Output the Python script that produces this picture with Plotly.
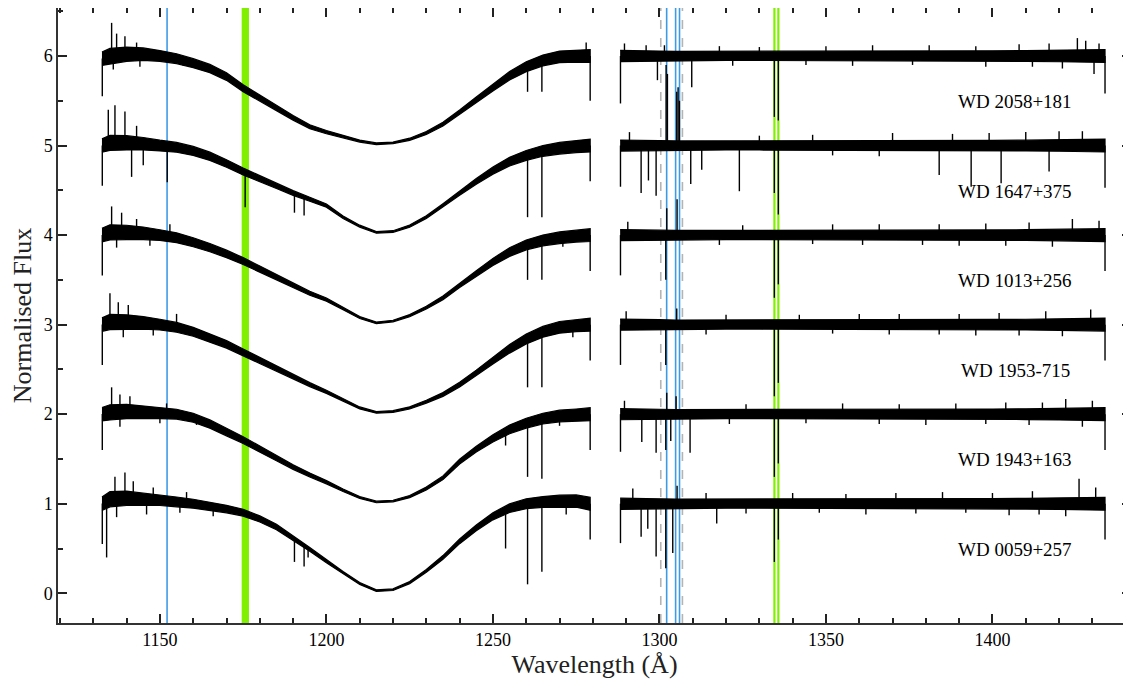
import numpy as np
import plotly.graph_objects as go

# ---- data ----
STARS = ["WD 0059+257", "WD 1943+163", "WD 1953-715", "WD 1013+256", "WD 1647+375", "WD 2058+181"]
OFFSETS = [0, 1, 2, 3, 4, 5]

# blue segment (Lyman alpha), continuum at knots, offset removed
WAVE_BLUE = [1132.6, 1135, 1140, 1145, 1150, 1155, 1160, 1165, 1170, 1175, 1180, 1185, 1190, 1195,
             1200, 1205, 1210, 1215, 1220, 1225, 1230, 1235, 1240, 1245, 1250, 1255, 1260, 1265,
             1270, 1275, 1279.2]
FLUX_0059 = [1.00, 1.05, 1.06, 1.05, 1.04, 1.02, 1.00, 0.97, 0.94, 0.90, 0.83, 0.74, 0.62, 0.49,
             0.36, 0.23, 0.11, 0.03, 0.04, 0.12, 0.25, 0.40, 0.58, 0.73, 0.86, 0.95, 1.00, 1.02,
             1.03, 1.03, 1.00]
FLUX_1943 = [1.00, 1.02, 1.03, 1.02, 1.01, 1.00, 0.96, 0.89, 0.80, 0.71, 0.61, 0.51, 0.41, 0.32,
             0.24, 0.15, 0.07, 0.02, 0.03, 0.08, 0.17, 0.29, 0.47, 0.61, 0.73, 0.83, 0.90, 0.95,
             0.98, 0.99, 1.00]
FLUX_1953 = [1.00, 1.03, 1.03, 1.02, 1.00, 0.97, 0.92, 0.85, 0.78, 0.69, 0.60, 0.51, 0.42, 0.33,
             0.25, 0.16, 0.07, 0.02, 0.03, 0.07, 0.14, 0.22, 0.33, 0.46, 0.60, 0.73, 0.84, 0.92,
             0.97, 0.99, 1.00]
FLUX_1013 = [1.00, 1.03, 1.03, 1.02, 1.00, 0.97, 0.92, 0.86, 0.79, 0.71, 0.62, 0.53, 0.44, 0.35,
             0.28, 0.18, 0.08, 0.02, 0.04, 0.10, 0.19, 0.30, 0.44, 0.57, 0.70, 0.81, 0.89, 0.94,
             0.97, 0.99, 1.00]
FLUX_1647 = [1.00, 1.03, 1.03, 1.02, 1.00, 0.98, 0.94, 0.88, 0.80, 0.71, 0.63, 0.55, 0.47, 0.40,
             0.33, 0.20, 0.10, 0.03, 0.04, 0.10, 0.20, 0.33, 0.47, 0.60, 0.72, 0.82, 0.89, 0.94,
             0.97, 0.99, 1.00]
FLUX_2058 = [0.97, 1.00, 1.02, 1.02, 1.00, 0.97, 0.92, 0.86, 0.77, 0.64, 0.53, 0.42, 0.31, 0.21,
             0.15, 0.10, 0.05, 0.02, 0.03, 0.07, 0.14, 0.24, 0.37, 0.51, 0.65, 0.78, 0.88, 0.95,
             0.99, 1.00, 1.00]
NOISE_BLUE = [0.075, 0.085, 0.08, 0.07, 0.06, 0.055, 0.05, 0.046, 0.042, 0.038, 0.034, 0.03, 0.026, 0.022,
              0.018, 0.014, 0.011, 0.009, 0.009, 0.012, 0.016, 0.021, 0.026, 0.032, 0.04, 0.048, 0.055, 0.06,
              0.065, 0.068, 0.072]

# red segment, flat continuum
WAVE_RED = [1288.2, 1290, 1295, 1300, 1305, 1310, 1320, 1330, 1340, 1350, 1360, 1370, 1380, 1390,
            1400, 1410, 1420, 1425, 1430, 1433.8]
FLUX_RED = [1.00, 1.00, 1.00, 1.00, 1.00, 1.00, 1.00, 1.00, 1.00, 1.00, 1.00, 1.00, 1.00, 1.00,
            1.00, 1.00, 1.00, 1.00, 1.00, 1.00]
NOISE_RED = [0.062, 0.062, 0.058, 0.055, 0.052, 0.052, 0.05, 0.05, 0.05, 0.05, 0.05, 0.052, 0.052, 0.055,
             0.058, 0.06, 0.064, 0.068, 0.072, 0.072]

# absorption dips (wavelength, lowest flux)
DIPS_0059 = [(1132.7, 0.55), (1134.0, 0.40), (1137.0, 0.85), (1146.0, 0.88), (1156.0, 0.90),
             (1166.0, 0.86), (1190.4, 0.35), (1193.3, 0.30), (1194.5, 0.40), (1253.8, 0.50),
             (1260.4, 0.10), (1264.7, 0.24), (1272.0, 0.88), (1279.2, 0.60),
             (1288.3, 0.56), (1294.5, 0.63), (1296.5, 0.72), (1299.0, 0.41), (1301.9, 0.28),
             (1304.0, 0.45), (1317.2, 0.78), (1326.0, 0.89), (1334.5, 0.35), (1335.7, 0.60),
             (1348.0, 0.90), (1362.0, 0.88), (1377.0, 0.89), (1392.0, 0.90), (1405.0, 0.87),
             (1414.0, 0.88), (1422.0, 0.86), (1433.8, 0.60)]
DIPS_1943 = [(1132.7, 0.60), (1138.0, 0.86), (1150.0, 0.90), (1161.0, 0.88), (1253.8, 0.65),
             (1260.4, 0.30), (1264.7, 0.28), (1270.0, 0.87), (1279.2, 0.60),
             (1288.3, 0.58), (1294.7, 0.69), (1299.0, 0.57), (1301.9, 0.60), (1303.4, 0.70),
             (1309.2, 0.57), (1321.0, 0.89), (1334.5, 0.30), (1335.7, 0.45), (1344.0, 0.90),
             (1366.0, 0.89), (1380.0, 0.88), (1398.0, 0.89), (1411.0, 0.88), (1427.0, 0.86),
             (1433.8, 0.60)]
DIPS_1953 = [(1132.7, 0.55), (1139.0, 0.86), (1148.0, 0.88), (1158.0, 0.89), (1253.8, 0.70),
             (1260.4, 0.30), (1264.7, 0.30), (1274.0, 0.86), (1279.2, 0.60),
             (1288.3, 0.55), (1301.9, 0.55), (1314.0, 0.89), (1334.5, 0.20), (1335.7, 0.35),
             (1352.0, 0.90), (1369.0, 0.89), (1384.0, 0.89), (1395.0, 0.88), (1408.0, 0.88),
             (1421.0, 0.87), (1433.8, 0.60)]
DIPS_1013 = [(1132.7, 0.55), (1137.0, 0.86), (1147.0, 0.88), (1159.0, 0.89), (1260.4, 0.50),
             (1264.7, 0.50), (1271.0, 0.87), (1279.2, 0.60),
             (1288.3, 0.55), (1301.9, 0.50), (1318.0, 0.89), (1334.5, 0.30), (1335.7, 0.45),
             (1346.0, 0.90), (1361.0, 0.89), (1379.0, 0.89), (1390.0, 0.88), (1404.0, 0.88),
             (1418.0, 0.87), (1433.8, 0.60)]
DIPS_1647 = [(1132.7, 0.55), (1141.5, 0.65), (1145.0, 0.78), (1152.2, 0.59), (1175.6, 0.31),
             (1190.4, 0.25), (1193.3, 0.22), (1260.4, 0.20), (1264.7, 0.20), (1279.2, 0.60),
             (1288.3, 0.54), (1294.5, 0.47), (1296.7, 0.61), (1299.0, 0.44), (1309.4, 0.57),
             (1312.7, 0.73), (1324.0, 0.49), (1334.5, 0.47), (1335.7, 0.23), (1352.0, 0.89),
             (1366.0, 0.88), (1384.0, 0.67), (1393.6, 0.54), (1402.6, 0.58), (1417.0, 0.71),
             (1433.8, 0.53)]
DIPS_2058 = [(1132.7, 0.55), (1136.0, 0.85), (1144.0, 0.88), (1157.0, 0.89), (1260.4, 0.60),
             (1264.7, 0.60), (1279.2, 0.50),
             (1288.3, 0.47), (1299.4, 0.73), (1309.7, 0.65), (1322.0, 0.89), (1334.5, 0.32),
             (1335.7, 0.28), (1344.0, 0.90), (1358.0, 0.89), (1376.0, 0.90), (1398.0, 0.88),
             (1412.0, 0.88), (1421.0, 0.86), (1430.5, 0.80), (1433.8, 0.58)]

# emission / noise spikes (wavelength, highest flux)
PEAKS_0059 = [(1136.5, 1.30), (1139.5, 1.35), (1142.0, 1.25), (1148.0, 1.18), (1158.0, 1.13),
              (1292.0, 1.17), (1305.3, 1.20), (1314.0, 1.12), (1340.0, 1.12), (1356.0, 1.11),
              (1371.0, 1.12), (1385.0, 1.13), (1400.0, 1.12), (1412.0, 1.14), (1426.0, 1.28),
              (1431.0, 1.18)]
PEAKS_1943 = [(1135.5, 1.30), (1138.0, 1.22), (1141.0, 1.20), (1152.0, 1.12), (1289.5, 1.15),
              (1302.2, 1.24), (1305.0, 1.20), (1326.0, 1.11), (1355.0, 1.12), (1372.0, 1.11),
              (1389.0, 1.12), (1404.0, 1.13), (1415.0, 1.13), (1422.0, 1.17), (1430.0, 1.15)]
PEAKS_1953 = [(1135.0, 1.35), (1137.5, 1.25), (1140.5, 1.22), (1155.0, 1.12), (1290.0, 1.15),
              (1305.2, 1.18), (1320.0, 1.11), (1342.0, 1.11), (1360.0, 1.12), (1372.0, 1.12),
              (1390.0, 1.12), (1402.0, 1.13), (1416.0, 1.15), (1429.5, 1.17)]
PEAKS_1013 = [(1135.5, 1.32), (1138.5, 1.25), (1143.0, 1.18), (1153.0, 1.12), (1290.5, 1.15),
              (1302.2, 1.30), (1305.3, 1.40), (1325.0, 1.11), (1352.0, 1.12), (1366.0, 1.12),
              (1384.0, 1.12), (1398.0, 1.13), (1411.0, 1.14), (1424.0, 1.18), (1432.0, 1.16)]
PEAKS_1647 = [(1134.5, 1.40), (1136.5, 1.45), (1139.5, 1.38), (1143.0, 1.22), (1291.0, 1.15),
              (1302.0, 1.90), (1302.4, 1.80), (1305.2, 1.60), (1305.6, 1.65), (1306.0, 1.50),
              (1330.0, 1.11), (1346.0, 1.12), (1370.0, 1.14), (1388.0, 1.13), (1399.0, 1.14),
              (1410.0, 1.15), (1420.0, 1.16), (1427.0, 1.16)]
PEAKS_2058 = [(1135.5, 1.37), (1137.0, 1.25), (1139.5, 1.22), (1143.0, 1.15), (1278.0, 1.15),
              (1289.5, 1.14), (1296.0, 1.12), (1301.5, 1.12), (1318.0, 1.11), (1330.0, 1.10),
              (1350.0, 1.11), (1364.0, 1.12), (1381.0, 1.12), (1395.0, 1.11), (1408.0, 1.13),
              (1417.0, 1.14), (1425.5, 1.20), (1428.0, 1.17), (1432.0, 1.14)]

FLUX_BLUE = [FLUX_0059, FLUX_1943, FLUX_1953, FLUX_1013, FLUX_1647, FLUX_2058]
DIPS = [DIPS_0059, DIPS_1943, DIPS_1953, DIPS_1013, DIPS_1647, DIPS_2058]
PEAKS = [PEAKS_0059, PEAKS_1943, PEAKS_1953, PEAKS_1013, PEAKS_1647, PEAKS_2058]

# marked lines
BLUE_LINES = [1152.15, 1302.17, 1304.86, 1306.03]
DASHED_LINES = [1300.4, 1306.9]
GREEN_BAND = [1174.93, 1175.26, 1175.59, 1175.71, 1175.99, 1176.37]
GREEN_LINES = [1334.53, 1335.71]

X_RANGE = [1119.4, 1441.6]
Y_RANGE = [-0.332, 6.536]

FONT = "Liberation Serif"

fig = go.Figure()


def add_band(wave, flux, noise, off):
    w = np.array(wave)
    f = np.array(flux) + off
    n = np.array(noise)
    xs = np.concatenate([w, w[::-1]])
    ys = np.concatenate([f + n, (f - n)[::-1]])
    fig.add_trace(go.Scatter(x=xs, y=ys, mode="lines", fill="toself", fillcolor="black",
                             line=dict(color="black", width=1.2), hoverinfo="skip",
                             showlegend=False))


def add_ticks(items, wave_b, flux_b, off):
    xs, ys = [], []
    for lam, val in items:
        if lam < 1285:
            base = np.interp(lam, wave_b, flux_b)
        else:
            base = np.interp(lam, WAVE_RED, FLUX_RED)
        xs += [lam, lam, None]
        ys += [base + off, val + off, None]
    if xs:
        fig.add_trace(go.Scatter(x=xs, y=ys, mode="lines", line=dict(color="black", width=1.4),
                                 hoverinfo="skip", showlegend=False))


for name, off, fb, dips, peaks in zip(STARS, OFFSETS, FLUX_BLUE, DIPS, PEAKS):
    add_band(WAVE_BLUE, fb, NOISE_BLUE, off)
    add_band(WAVE_RED, FLUX_RED, NOISE_RED, off)
    add_ticks(dips, WAVE_BLUE, fb, off)
    add_ticks(peaks, WAVE_BLUE, fb, off)
    fig.add_annotation(x=1406.8, y=off + 0.49, text=name, showarrow=False,
                       font=dict(family=FONT, size=19, color="black"))

shapes = []
for lam in BLUE_LINES:
    shapes.append(dict(type="line", xref="x", yref="paper", x0=lam, x1=lam, y0=0, y1=1,
                       line=dict(color="#3d9be6", width=1.6), layer="below"))
for lam in DASHED_LINES:
    shapes.append(dict(type="line", xref="x", yref="paper", x0=lam, x1=lam, y0=0, y1=1,
                       line=dict(color="#b4b4b4", width=1.6, dash="dash"), layer="below"))
for lam in GREEN_BAND:
    shapes.append(dict(type="line", xref="x", yref="paper", x0=lam, x1=lam, y0=0, y1=1,
                       line=dict(color="#80f000", width=2.5), layer="below"))
for lam in GREEN_LINES:
    shapes.append(dict(type="line", xref="x", yref="paper", x0=lam, x1=lam, y0=0, y1=1,
                       line=dict(color="#80f000", width=2.2), layer="below"))

axis_common = dict(showline=True, linecolor="#333333", linewidth=1.5, mirror="allticks",
                   ticks="inside", ticklen=9, tickwidth=1.5, tickcolor="#222222",
                   showgrid=False, zeroline=False, automargin=False,
                   tickfont=dict(family=FONT, size=18, color="black"))

# the page body adds an 8 px margin, so the figure is 8 px smaller and shifted
fig.update_layout(
    width=1123, height=675,
    margin=dict(l=50, r=0, t=0, b=60),
    paper_bgcolor="white", plot_bgcolor="white",
    shapes=shapes,
    xaxis=dict(range=X_RANGE, tick0=1150, dtick=50,
               minor=dict(ticks="inside", dtick=10, ticklen=5, tickwidth=1.5, tickcolor="#222222"),
               title=dict(text="Wavelength (Å)", font=dict(family=FONT, size=26, color="#222222"),
                          standoff=4),
               **axis_common),
    yaxis=dict(range=Y_RANGE, tick0=0, dtick=1,
               minor=dict(ticks="inside", dtick=0.5, ticklen=5, tickwidth=1.5, tickcolor="#222222"),
               title=dict(text="Normalised Flux", font=dict(family=FONT, size=26, color="#222222"),
                          standoff=8),
               **axis_common),
)

fig.write_html("out.html")
